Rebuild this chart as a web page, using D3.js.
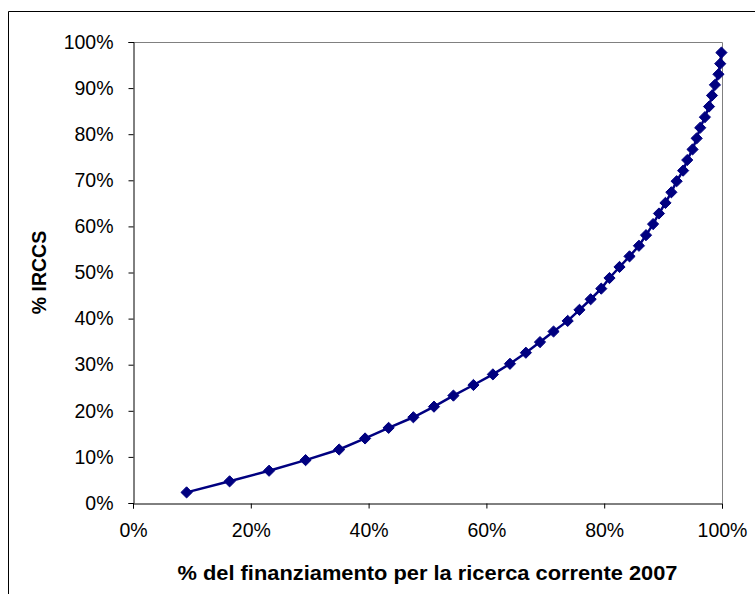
<!DOCTYPE html>
<html>
<head>
<meta charset="utf-8">
<script src="https://cdn.jsdelivr.net/npm/d3@7/dist/d3.min.js"></script>
<style>
  html, body { margin: 0; padding: 0; background: #fff; }
  svg { display: block; }
  text { font-family: Arial, "Liberation Sans", sans-serif; fill: #000; }
</style>
</head>
<body>
<svg id="chart" width="755" height="594"></svg>
<script>
// Cumulative share of funding (x) vs cumulative share of institutes (y), in percent
const fundingShare = [
  9.1, 16.4, 23.1, 29.3, 35.0, 39.4, 43.4, 47.6, 51.1, 54.4,
  57.8, 61.1, 64.0, 66.7, 69.1, 71.4, 73.8, 75.8, 77.7, 79.5,
  80.9, 82.6, 84.3, 85.9, 87.1, 88.3, 89.3, 90.4, 91.4, 92.3,
  93.4, 94.1, 95.0, 95.7, 96.3, 97.1, 97.8, 98.3, 98.8, 99.4,
  99.7, 99.9
];
const irccsShare = [
  2.3, 4.7, 7.0, 9.3, 11.6, 14.0, 16.3, 18.6, 20.9, 23.3,
  25.6, 27.9, 30.2, 32.6, 34.9, 37.2, 39.5, 41.9, 44.2, 46.5,
  48.8, 51.2, 53.5, 55.8, 58.1, 60.5, 62.8, 65.1, 67.4, 69.8,
  72.1, 74.4, 76.7, 79.1, 81.4, 83.7, 86.0, 88.4, 90.7, 93.0,
  95.3, 97.7
];
const xTicks = [0, 20, 40, 60, 80, 100];
const yTicks = [0, 10, 20, 30, 40, 50, 60, 70, 80, 90, 100];

const points = fundingShare.map((x, i) => ({ x, y: irccsShare[i] }));

const svg = d3.select("#chart");
const plot = { left: 133, right: 722, top: 42, bottom: 503 };

// Outer chart frame (top and left edges visible)
svg.append("path")
  .attr("d", "M8.5,594 V11.5 H755")
  .attr("fill", "none").attr("stroke", "#000").attr("stroke-width", 1);

const x = d3.scaleLinear().domain([0, 100]).range([plot.left, plot.right]);
const y = d3.scaleLinear().domain([0, 100]).range([plot.bottom, plot.top]);

// Plot area border: grey on top and right
svg.append("path")
  .attr("d", `M${plot.left},${plot.top + 0.5} H${plot.right + 0.5} V${plot.bottom}`)
  .attr("fill", "none").attr("stroke", "#808080").attr("stroke-width", 1);

const fmt = d => d + "%";

const xAxis = svg.append("g")
  .attr("transform", `translate(0,${plot.bottom + 0.5})`)
  .call(d3.axisBottom(x).tickValues(xTicks).tickFormat(fmt).tickSize(5).tickPadding(15));
const yAxis = svg.append("g")
  .attr("transform", `translate(${plot.left + 0.5},0)`)
  .call(d3.axisLeft(y).tickValues(yTicks).tickFormat(fmt).tickSize(5).tickPadding(15));

[xAxis, yAxis].forEach(g => {
  g.select(".domain").attr("stroke", "#000").attr("stroke-width", 1);
  g.selectAll(".tick line").attr("stroke", "#000");
  g.selectAll(".tick text")
    .attr("font-size", 19.5)
    .attr("font-family", "Arial, 'Liberation Sans', sans-serif")
    .attr("fill", "#000");
});

// Series line and diamond markers
const navy = "#000080";
svg.append("path")
  .datum(points)
  .attr("fill", "none")
  .attr("stroke", navy)
  .attr("stroke-width", 2.5)
  .attr("d", d3.line().x(d => x(d.x)).y(d => y(d.y)));

const diamond = d3.symbol().type(d3.symbolDiamond2).size(80);
svg.append("g").selectAll("path")
  .data(points)
  .join("path")
  .attr("transform", d => `translate(${x(d.x)},${y(d.y)})`)
  .attr("d", diamond)
  .attr("fill", navy)
  .attr("stroke", navy)
  .attr("stroke-width", 1);

// Axis titles
svg.append("text")
  .attr("x", (plot.left + plot.right) / 2)
  .attr("y", 580)
  .attr("text-anchor", "middle")
  .attr("font-size", 20)
  .attr("font-weight", "bold")
  .attr("textLength", 500)
  .attr("lengthAdjust", "spacingAndGlyphs")
  .text("% del finanziamento per la ricerca corrente 2007");

svg.append("text")
  .attr("transform", `translate(46,${(plot.top + plot.bottom) / 2}) rotate(-90)`)
  .attr("text-anchor", "middle")
  .attr("font-size", 19.5)
  .attr("font-weight", "bold")
  .text("% IRCCS");
</script>
</body>
</html>
